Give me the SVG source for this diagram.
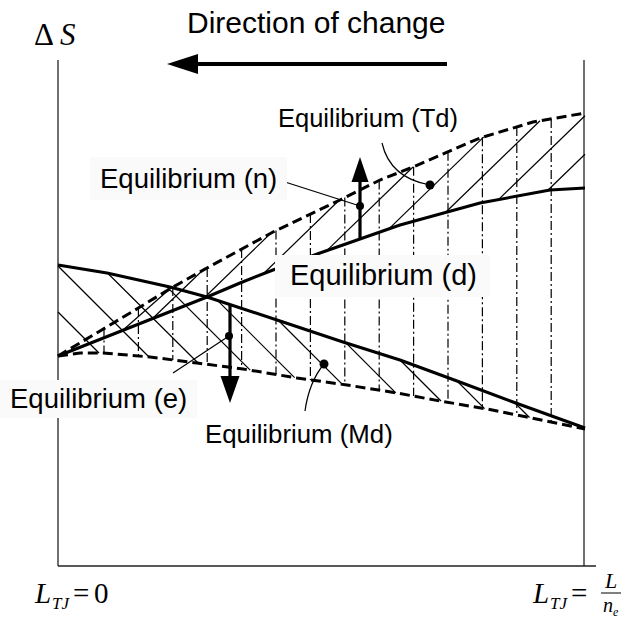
<svg xmlns="http://www.w3.org/2000/svg" width="623" height="619" viewBox="0 0 623 619">
<style>
.axis{stroke:#222;stroke-width:1.3;fill:none}
.solid{stroke:#000;stroke-width:3;fill:none;stroke-linejoin:round}
.dash{stroke:#000;stroke-width:3;fill:none;stroke-dasharray:10 5}
.hatch{stroke:#000;stroke-width:1.2;fill:none}
.vdd{stroke:#000;stroke-width:1.2;fill:none;stroke-dasharray:9 3 2 3}
.lead{stroke:#000;stroke-width:1.2;fill:none}
.lbl{font-family:"Liberation Sans",Arial,sans-serif;fill:#000}
.math{font-family:"Liberation Serif","Times New Roman",serif;fill:#000}
.box{fill:#fafafa}
</style>
<rect width="623" height="619" fill="#fff"/>
<g id="axes">
<line class="axis" x1="58" y1="60" x2="58" y2="566"/>
<line class="axis" x1="58" y1="566" x2="596" y2="566"/>
<line class="axis" x1="584" y1="60" x2="584" y2="566"/>
</g>
<g id="verticals">
<line class="vdd" x1="104" y1="328.5" x2="104" y2="353.1"/>
<line class="vdd" x1="138.4" y1="308" x2="138.4" y2="356"/>
<line class="vdd" x1="172.8" y1="287.1" x2="172.8" y2="359.9"/>
<line class="vdd" x1="207.2" y1="268" x2="207.2" y2="364.3"/>
<line class="vdd" x1="241.6" y1="249.1" x2="241.6" y2="368.8"/>
<line class="vdd" x1="276" y1="230.6" x2="276" y2="374.5"/>
<line class="vdd" x1="310.4" y1="214.1" x2="310.4" y2="379.9"/>
<line class="vdd" x1="344.8" y1="197.6" x2="344.8" y2="384.7"/>
<line class="vdd" x1="379.2" y1="180.4" x2="379.2" y2="390.2"/>
<line class="vdd" x1="413.6" y1="166.7" x2="413.6" y2="396.1"/>
<line class="vdd" x1="448" y1="151.8" x2="448" y2="402.4"/>
<line class="vdd" x1="482.4" y1="137.3" x2="482.4" y2="408.2"/>
<line class="vdd" x1="516.8" y1="126.9" x2="516.8" y2="415"/>
<line class="vdd" x1="551.2" y1="118.9" x2="551.2" y2="422"/>
</g>
<g id="hatch-up">
<line class="hatch" x1="547.6" y1="190.5" x2="585" y2="154.2"/>
<line class="hatch" x1="498.5" y1="199.6" x2="585" y2="115.7"/>
<line class="hatch" x1="445.5" y1="212.5" x2="540" y2="120.8"/>
<line class="hatch" x1="388.9" y1="228.9" x2="483.8" y2="136.9"/>
<line class="hatch" x1="326.8" y1="250.6" x2="413" y2="167"/>
<line class="hatch" x1="263.1" y1="274" x2="338.6" y2="200.7"/>
<line class="hatch" x1="205" y1="297" x2="271" y2="233"/>
<line class="hatch" x1="152.3" y1="318.7" x2="205" y2="268"/>
<line class="hatch" x1="122.5" y1="330.5" x2="172" y2="287"/>
</g>
<g id="hatch-down">
<line class="hatch" x1="58" y1="312" x2="99" y2="353"/>
<line class="hatch" x1="58" y1="266" x2="149" y2="357"/>
<line class="hatch" x1="107.5" y1="273" x2="198" y2="363"/>
<line class="hatch" x1="166.2" y1="286.2" x2="250.2" y2="370.2"/>
<line class="hatch" x1="217.4" y1="300.4" x2="294.6" y2="377.6"/>
<line class="hatch" x1="278" y1="320" x2="342.3" y2="384.3"/>
<line class="hatch" x1="345.9" y1="342.9" x2="395.8" y2="392.8"/>
<line class="hatch" x1="400" y1="360" x2="441" y2="401"/>
<line class="hatch" x1="457" y1="381" x2="484.6" y2="408.6"/>
<line class="hatch" x1="514" y1="402" x2="529.5" y2="417.5"/>
</g>
<g id="curves">
<path id="curve-Td" class="dash" d="M58,356 L100,331 L140,307 L173,287 L207,268 L273,232 L340,200 L380,180 L413,167 L480,138 L533,122 L585,113"/>
<path id="curve-d" class="solid" d="M58,356 L207,297 L240,283 L273,270 L320,253 L400,225 L480,203 L550,190 L585,188"/>
<path id="curve-solid-down" class="solid" d="M58,265 L107,273 L170,287 L207,297 L277,320 L343,342 L400,360 L457,381 L513,402 L585,428"/>
<path id="curve-Md" class="dash" d="M58,356 L80,353 L103,353 L150,357 L197,363 L243,369 L297,378 L347,385 L397,393 L440,401 L487,409 L527,417 L585,429"/>
</g>
<g id="connectors">
<line x1="447" y1="64" x2="196" y2="64" stroke="#000" stroke-width="4"/>
<polygon points="167,64 198,54 198,74" fill="#000"/>
<line x1="360" y1="239" x2="360" y2="180" stroke="#000" stroke-width="3.2"/>
<polygon points="351.5,182 368.5,182 360,157" fill="#000"/>
<line x1="230" y1="304" x2="230" y2="378" stroke="#000" stroke-width="3.2"/>
<polygon points="220.5,376 239.5,376 230,403" fill="#000"/>
<line class="lead" x1="285" y1="182" x2="360" y2="206"/>
<line class="lead" x1="173" y1="373" x2="229" y2="336"/>
<path class="lead" d="M382,143 Q390,178 430,185"/>
<path class="lead" d="M324,364 Q309,382 305,411"/>
<circle cx="360" cy="206" r="4"/>
<circle cx="229" cy="336" r="4"/>
<circle cx="430" cy="185" r="4.5"/>
<circle cx="324" cy="364" r="4.5"/>
</g>
<g id="label-direction"><text class="lbl" x="187" y="33" font-size="30">Direction of change</text></g>
<g id="label-Td"><text class="lbl" x="278" y="127" font-size="25.5">Equilibrium (Td)</text></g>
<g id="label-n"><rect class="box" x="90" y="157" width="197" height="43"/><text class="lbl" x="100" y="188" font-size="27.5">Equilibrium (n)</text></g>
<g id="label-d"><rect class="box" x="275" y="255" width="215" height="42"/><text class="lbl" x="290" y="285" font-size="29">Equilibrium (d)</text></g>
<g id="label-e"><rect class="box" x="0" y="380" width="197" height="38"/><text class="lbl" x="10" y="408" font-size="27.5">Equilibrium (e)</text></g>
<g id="label-Md"><text class="lbl" x="205" y="443" font-size="25.8">Equilibrium (Md)</text></g>
<g id="label-dS"><text class="math" x="34" y="45" font-size="31">Δ <tspan font-style="italic">S</tspan></text></g>
<g id="label-L0"><text class="math" font-size="29"><tspan x="35" y="603" font-style="italic">L</tspan><tspan font-style="italic" font-size="17" x="52" y="609">TJ</tspan><tspan x="73" y="603">=</tspan><tspan x="94" y="603">0</tspan></text></g>
<g id="label-L1"><text class="math" font-size="29"><tspan x="533" y="603" font-style="italic">L</tspan><tspan font-style="italic" font-size="17" x="550" y="609">TJ</tspan><tspan x="571" y="603">=</tspan></text>
<text class="math" x="605" y="588" font-size="22" font-style="italic">L</text>
<line x1="601" y1="593" x2="621" y2="593" stroke="#000" stroke-width="1"/>
<text class="math" x="603" y="612" font-size="20" font-style="italic">n<tspan font-size="12" dy="4">e</tspan></text></g>
</svg>
